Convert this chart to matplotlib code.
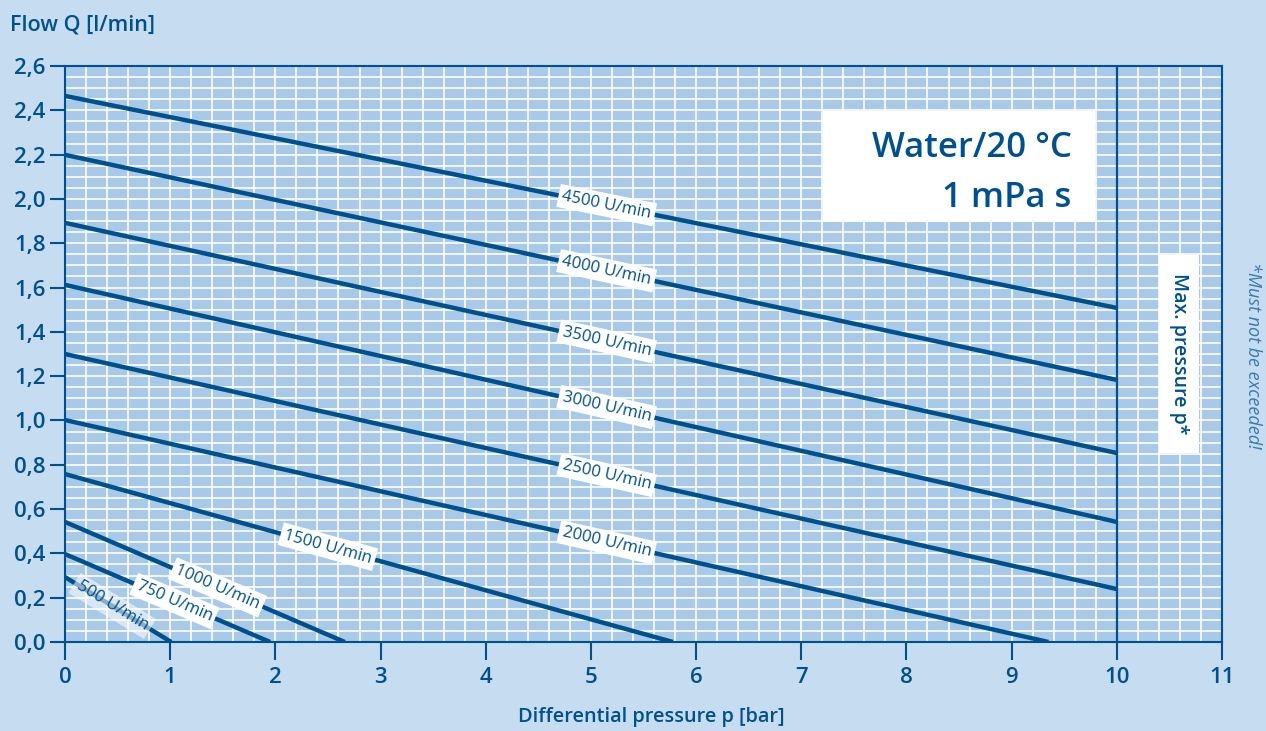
import numpy as np
import matplotlib
matplotlib.use('Agg')
import matplotlib.pyplot as plt
from matplotlib.patches import Rectangle
from matplotlib.ticker import MultipleLocator, FuncFormatter

# ---- data ----
speed_labels = ['4500 U/min', '4000 U/min', '3500 U/min', '3000 U/min', '2500 U/min',
                '2000 U/min', '1500 U/min', '1000 U/min', '750 U/min', '500 U/min']
q_start = [2.465, 2.199, 1.892, 1.612, 1.300, 1.002, 0.758, 0.542, 0.397, 0.293]
p_end = [10.0, 10.0, 10.0, 10.0, 10.0, 9.35, 5.78, 2.66, 1.95, 1.01]
q_end = [1.508, 1.183, 0.853, 0.542, 0.239, 0.0, 0.0, 0.0, 0.0, 0.0]
label_at_p = [5.15, 5.15, 5.15, 5.15, 5.15, 5.15, 2.5, 1.45, 1.04, 0.45]
max_pressure = 10

plt.rcParams['font.family'] = ['Open Sans', 'DejaVu Sans']

BG = '#c6dcf1'
AXBG = '#a9c9e9'
DARK = '#00508c'

fig = plt.figure(figsize=(12.66, 7.31), dpi=100, facecolor=BG)
W, H = 1266, 731
x0, x1, ytop, ybot = 65, 1222, 66, 642
ax = fig.add_axes([x0 / W, (H - ybot) / H, (x1 - x0) / W, (ybot - ytop) / H])
ax.set_facecolor(AXBG)
ax.set_xlim(0, 11)
ax.set_ylim(0, 2.6)

ax.xaxis.set_major_locator(MultipleLocator(1))
ax.xaxis.set_minor_locator(MultipleLocator(0.2))
ax.yaxis.set_major_locator(MultipleLocator(0.2))
ax.yaxis.set_minor_locator(MultipleLocator(0.05))
ax.yaxis.set_major_formatter(FuncFormatter(lambda v, p: f'{v:.1f}'.replace('.', ',')))
ax.grid(True, which='both', color='white', linewidth=1.2, zorder=0)
ax.set_axisbelow(True)
ax.tick_params(axis='x', which='major', direction='out', length=13, width=1.5,
               color=DARK, labelcolor=DARK, labelsize=16, pad=5)
ax.tick_params(axis='y', which='major', direction='out', length=11, width=1.5,
               color=DARK, labelcolor=DARK, labelsize=16, pad=3)
for lbl in ax.get_xticklabels() + ax.get_yticklabels():
    lbl.set_fontweight('semibold')
ax.tick_params(which='minor', length=0)
for s in ax.spines.values():
    s.set_color(DARK)
    s.set_linewidth(1.5)

ax.axvline(max_pressure, color=DARK, linewidth=1.6, zorder=3)

for lab, q0, pe, qe, lp in zip(speed_labels, q_start, p_end, q_end, label_at_p):
    ax.plot([0, pe], [q0, qe], color=DARK, linewidth=3.2, solid_capstyle='butt', zorder=4)
    ly = np.interp(lp, [0, pe], [q0, qe])
    (px0, py0), (px1, py1) = ax.transData.transform([(0, q0), (pe, qe)])
    ang = np.degrees(np.arctan2(py1 - py0, px1 - px0))
    alpha = 0.55 if lab.startswith('500') else 1.0
    ax.text(lp, ly, lab, rotation=ang, rotation_mode='anchor', ha='center', va='center',
            fontsize=12, color=DARK, zorder=6,
            bbox=dict(boxstyle='square,pad=0.22', facecolor='white', edgecolor='none', alpha=alpha))

# Water box
ax.add_patch(Rectangle((7.21, 1.896), 2.58, 0.501, facecolor='white', edgecolor='none', zorder=5))
ax.text(9.57, 2.19, 'Water/20 °C', ha='right', va='baseline', fontsize=25, color=DARK,
        fontweight='semibold', zorder=6)
ax.text(9.57, 1.964, '1 mPa s', ha='right', va='baseline', fontsize=25, color=DARK,
        fontweight='semibold', zorder=6)

# Max pressure box
ax.add_patch(Rectangle((10.40, 0.853), 0.38, 0.894, facecolor='white', edgecolor='none', zorder=5))
ax.text(10.59, 1.30, 'Max. pressure p*', rotation=-90, ha='center', va='center',
        fontsize=14, color=DARK, fontweight='semibold', zorder=6)

fig.text(1253 / W, 1 - 355 / H, '*Must not be exceeded!', rotation=-90, ha='center', va='center',
         fontsize=13, color='#3b78b2', style='italic')

fig.text(10 / W, 1 - 25 / H, 'Flow Q [l/min]', ha='left', va='center', fontsize=15.5,
         color=DARK, fontweight='semibold')
fig.text(651 / W, 1 - 717 / H, 'Differential pressure p [bar]', ha='center', va='center',
         fontsize=14.3, color=DARK, fontweight='semibold')

fig.savefig('out.png', dpi=100, facecolor=BG)
